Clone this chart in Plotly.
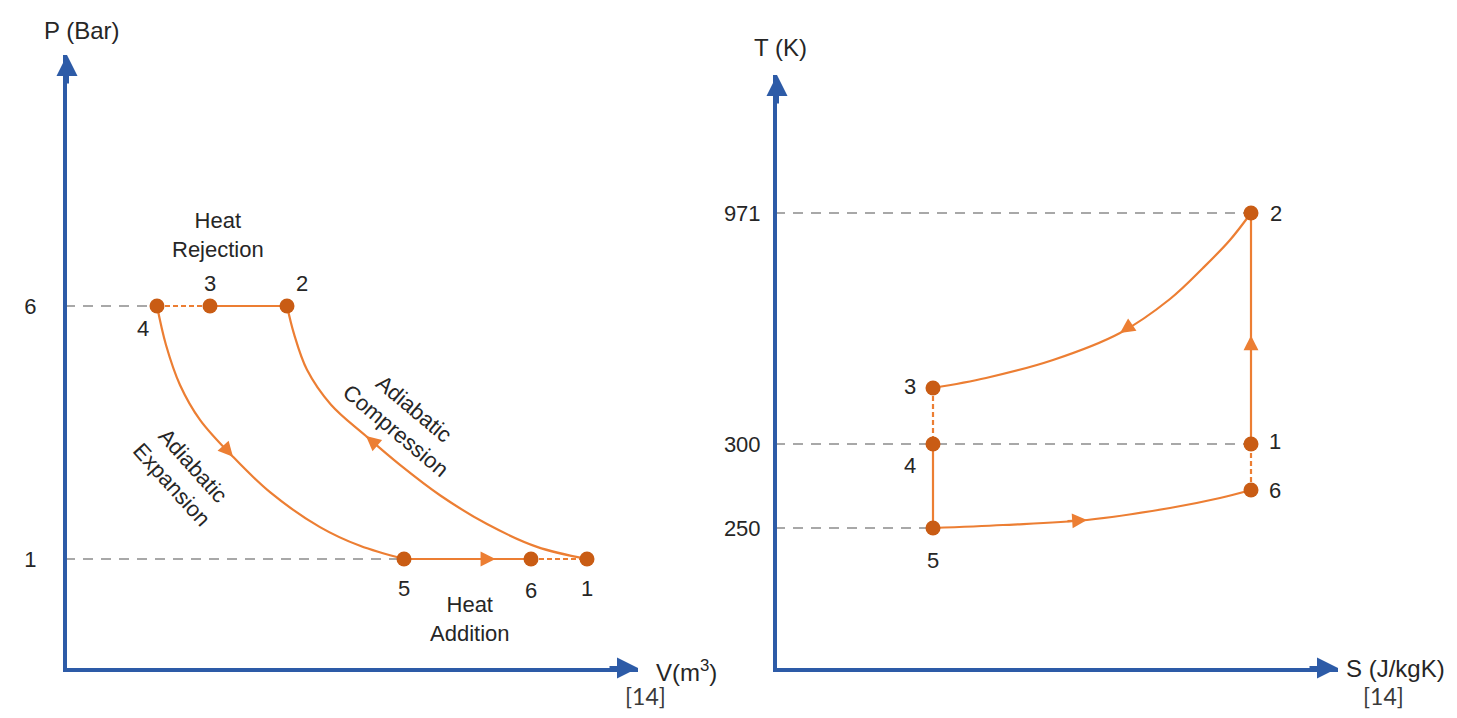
import plotly.graph_objects as go

# ---------------- DATA (diagram is schematic) ----------------
# P-V diagram: state points 1..6  (V in diagram units, P in bar)
pv_states = ["1", "2", "3", "4", "5", "6"]
pv_V = [5.22, 2.22, 1.45, 0.92, 3.39, 4.66]
pv_P = [1.0, 6.0, 6.0, 6.0, 1.0, 1.0]
pv_ticks = [1, 6]
pv_ticktext = ["1", "6"]

# adiabatic compression 1 -> 2
comp_V = [5.22, 4.72, 4.22, 3.75, 3.35, 3.01, 2.66, 2.42, 2.29, 2.22]
comp_P = [1.00, 1.24, 1.69, 2.26, 2.86, 3.43, 4.05, 4.74, 5.45, 6.00]
# adiabatic expansion 4 -> 5
exp_V = [0.92, 1.01, 1.15, 1.35, 1.68, 2.05, 2.55, 2.95, 3.39]
exp_P = [6.00, 5.23, 4.44, 3.75, 3.02, 2.32, 1.63, 1.26, 1.00]

# T-S diagram: state points 1..6 (S in diagram units, height in diagram units, not to scale)
ts_states = ["1", "2", "3", "4", "5", "6"]
ts_S = [4.76, 4.76, 1.58, 1.58, 1.58, 4.76]
ts_H = [2.26, 4.57, 2.82, 2.26, 1.42, 1.80]
ts_ticks = [1.42, 2.26, 4.57]
ts_ticktext = ["250", "300", "971"]

# curve 2 -> 3
c23_S = [4.76, 4.55, 4.28, 3.95, 3.45, 2.78, 2.11, 1.58]
c23_H = [4.57, 4.30, 4.02, 3.71, 3.37, 3.10, 2.92, 2.82]
# curve 5 -> 6
c56_S = [1.58, 2.28, 3.12, 3.95, 4.45, 4.76]
c56_H = [1.42, 1.45, 1.50, 1.62, 1.72, 1.80]

# ---------------- STYLE ----------------
ORANGE = "#EC7E33"
DOT = "#C95C14"
BLUE = "#2D5BA7"
GRAY = "#A8A8A8"
TXT = "#262626"
FONT = "Liberation Sans"
LW = 2.2

# page has an 8px body margin; figure pixel = page pixel - 8
OFF = 8
W, H = 1457 - 2 * OFF, 718 - 2 * OFF

def fx(px):
    return (px - OFF) / W

def fy(py):
    return 1 - (py - OFF) / H

fig = go.Figure()

def line(x, y, xa, ya, dash=None, color=ORANGE, width=LW, shape="linear"):
    fig.add_trace(go.Scatter(x=x, y=y, xaxis=xa, yaxis=ya, mode="lines",
                             line=dict(color=color, width=width, dash=dash, shape=shape),
                             hoverinfo="skip", showlegend=False))

# ---- P-V diagram ----
i = {s: pv_states.index(s) for s in pv_states}
line([0, pv_V[i["4"]]], [6, 6], "x", "y", dash="10px,8px", color=GRAY, width=2)
line([0, pv_V[i["5"]]], [1, 1], "x", "y", dash="10px,8px", color=GRAY, width=2)
line(comp_V, comp_P, "x", "y", shape="spline")
line(exp_V, exp_P, "x", "y", shape="spline")
line([pv_V[i["2"]], pv_V[i["3"]]], [pv_P[i["2"]], pv_P[i["3"]]], "x", "y")
line([pv_V[i["3"]], pv_V[i["4"]]], [pv_P[i["3"]], pv_P[i["4"]]], "x", "y", dash="5px,3px")
line([pv_V[i["5"]], pv_V[i["6"]]], [pv_P[i["5"]], pv_P[i["6"]]], "x", "y")
line([pv_V[i["6"]], pv_V[i["1"]]], [pv_P[i["6"]], pv_P[i["1"]]], "x", "y", dash="5px,3px")
fig.add_trace(go.Scatter(x=pv_V, y=pv_P, xaxis="x", yaxis="y", mode="markers",
                         marker=dict(color=DOT, size=15), hoverinfo="skip", showlegend=False))

# ---- T-S diagram ----
j = {s: ts_states.index(s) for s in ts_states}
line([0, ts_S[j["2"]]], [ts_H[j["2"]]] * 2, "x2", "y2", dash="10px,8px", color=GRAY, width=2)
line([0, ts_S[j["1"]]], [ts_H[j["1"]]] * 2, "x2", "y2", dash="10px,8px", color=GRAY, width=2)
line([0, ts_S[j["5"]]], [ts_H[j["5"]]] * 2, "x2", "y2", dash="10px,8px", color=GRAY, width=2)
line(c23_S, c23_H, "x2", "y2", shape="spline")
line(c56_S, c56_H, "x2", "y2", shape="spline")
line([ts_S[j["1"]], ts_S[j["2"]]], [ts_H[j["1"]], ts_H[j["2"]]], "x2", "y2")
line([ts_S[j["4"]], ts_S[j["5"]]], [ts_H[j["4"]], ts_H[j["5"]]], "x2", "y2")
line([ts_S[j["3"]], ts_S[j["4"]]], [ts_H[j["3"]], ts_H[j["4"]]], "x2", "y2", dash="5px,3px")
line([ts_S[j["6"]], ts_S[j["1"]]], [ts_H[j["6"]], ts_H[j["1"]]], "x2", "y2", dash="5px,3px")
fig.add_trace(go.Scatter(x=ts_S, y=ts_H, xaxis="x2", yaxis="y2", mode="markers",
                         marker=dict(color=DOT, size=15), hoverinfo="skip", showlegend=False))

ann = []

def add_arrow(xr, yr, hx, hy, tx, ty):
    ann.append(dict(x=hx, y=hy, ax=tx, ay=ty, xref=xr, yref=yr, axref=xr, ayref=yr,
                    text="", showarrow=True, arrowhead=2, arrowsize=1.35,
                    arrowwidth=LW, arrowcolor=ORANGE))

def path_arrow(xr, yr, xs, ys, k):
    hx, hy = xs[k], ys[k]
    add_arrow(xr, yr, hx, hy, hx + 0.25 * (xs[k - 1] - hx), hy + 0.25 * (ys[k - 1] - hy))

def seg_arrow(xr, yr, x0, y0, x1, y1, frac):
    add_arrow(xr, yr, x0 + frac * (x1 - x0), y0 + frac * (y1 - y0),
              x0 + (frac - 0.05) * (x1 - x0), y0 + (frac - 0.05) * (y1 - y0))

path_arrow("x", "y", comp_V, comp_P, 5)
path_arrow("x", "y", exp_V, exp_P, 4)
seg_arrow("x", "y", pv_V[i["2"]], 6, pv_V[i["3"]], 6, 0.55)
seg_arrow("x", "y", pv_V[i["5"]], 1, pv_V[i["6"]], 1, 0.72)
path_arrow("x2", "y2", c23_S, c23_H, 4)
path_arrow("x2", "y2", c56_S, c56_H, 2)
seg_arrow("x2", "y2", ts_S[j["1"]], ts_H[j["1"]], ts_S[j["2"]], ts_H[j["2"]], 0.47)
seg_arrow("x2", "y2", ts_S[j["4"]], ts_H[j["4"]], ts_S[j["5"]], ts_H[j["5"]], 0.52)

# state-number labels (offsets in px)
num_font = dict(size=22, color=TXT, family=FONT)
pv_off = {"1": (0, -29), "2": (15, 23), "3": (0, 23), "4": (-14, -22), "5": (0, -29), "6": (0, -31)}
ts_off = {"1": (24, 3), "2": (25, 0), "3": (-23, 2), "4": (-23, -21), "5": (0, -32), "6": (24, 0)}
for s in pv_states:
    ann.append(dict(x=pv_V[i[s]], y=pv_P[i[s]], xref="x", yref="y", text=s, showarrow=False,
                    xshift=pv_off[s][0], yshift=pv_off[s][1], font=num_font))
for s in ts_states:
    ann.append(dict(x=ts_S[j[s]], y=ts_H[j[s]], xref="x2", yref="y2", text=s, showarrow=False,
                    xshift=ts_off[s][0], yshift=ts_off[s][1], font=num_font))

# process labels
lab_font = dict(size=22, color=TXT, family=FONT)
ann += [
    dict(x=1.53, y=7.40, xref="x", yref="y", text="Heat<br>Rejection", showarrow=False, font=lab_font),
    dict(x=4.05, y=-0.19, xref="x", yref="y", text="Heat<br>Addition", showarrow=False, font=lab_font),
    dict(x=3.40, y=3.75, xref="x", yref="y", text="Adiabatic<br>Compression", showarrow=False,
         textangle=40, font=lab_font),
    dict(x=1.17, y=2.66, xref="x", yref="y", text="Adiabatic<br>Expansion", showarrow=False,
         textangle=48, font=lab_font),
]

def pap(px, py, text, size=24, xanchor="center", yanchor="middle", color=TXT, family=FONT, pad=1):
    ann.append(dict(x=fx(px), y=fy(py), xref="paper", yref="paper", text=text, showarrow=False,
                    xanchor=xanchor, yanchor=yanchor, borderpad=pad,
                    font=dict(size=size, color=color, family=family)))

pap(82, 31, "P (Bar)")
pap(654, 671, "V(m<sup>3</sup>)", xanchor="left")
pap(780, 47, "T (K)")
pap(1345, 668, "S (J/kgK)", xanchor="left", pad=0)
pap(645, 711, "[14]", size=23, yanchor="bottom", color="#3a3a3a", family="Lato", pad=0)
pap(1383, 711, "[14]", size=23, yanchor="bottom", color="#3a3a3a", family="Lato", pad=0)

# axis arrowheads
for xr, yr in (("x domain", "y domain"), ("x2 domain", "y2 domain")):
    ann.append(dict(x=1, y=0, xref=xr, yref=yr, ax=-30, ay=0, text="", showarrow=True,
                    arrowhead=2, arrowsize=1.05, arrowwidth=4, arrowcolor=BLUE))
    ann.append(dict(x=0, y=1, xref=xr, yref=yr, ax=0, ay=30, text="", showarrow=True,
                    arrowhead=2, arrowsize=1.05, arrowwidth=4, arrowcolor=BLUE))

axis_common = dict(showgrid=False, zeroline=False, showline=True, linecolor=BLUE, linewidth=4,
                   ticks="", automargin=False, fixedrange=True)
tick_font = dict(size=22, color=TXT, family=FONT)

fig.update_layout(
    width=W, height=H,
    margin=dict(l=0, r=0, t=0, b=0),
    paper_bgcolor="white", plot_bgcolor="white",
    showlegend=False,
    xaxis=dict(domain=[fx(67), fx(638)], range=[0.02, 5.73], showticklabels=False, anchor="y", **axis_common),
    yaxis=dict(domain=[fy(668), fy(55)], range=[1 - 109 / 50.6, 1 + 504 / 50.6], anchor="x",
               tickvals=pv_ticks, ticktext=pv_ticktext, ticklabelstandoff=22,
               tickfont=tick_font, **axis_common),
    xaxis2=dict(domain=[fx(777), fx(1338)], range=[0.02, 5.63], showticklabels=False, anchor="y2", **axis_common),
    yaxis2=dict(domain=[fy(668), fy(75)], range=[0.02, 5.95], anchor="x2",
                tickvals=ts_ticks, ticktext=ts_ticktext, ticklabelstandoff=8,
                tickfont=tick_font, **axis_common),
    annotations=ann,
)

fig.write_html("out.html")
